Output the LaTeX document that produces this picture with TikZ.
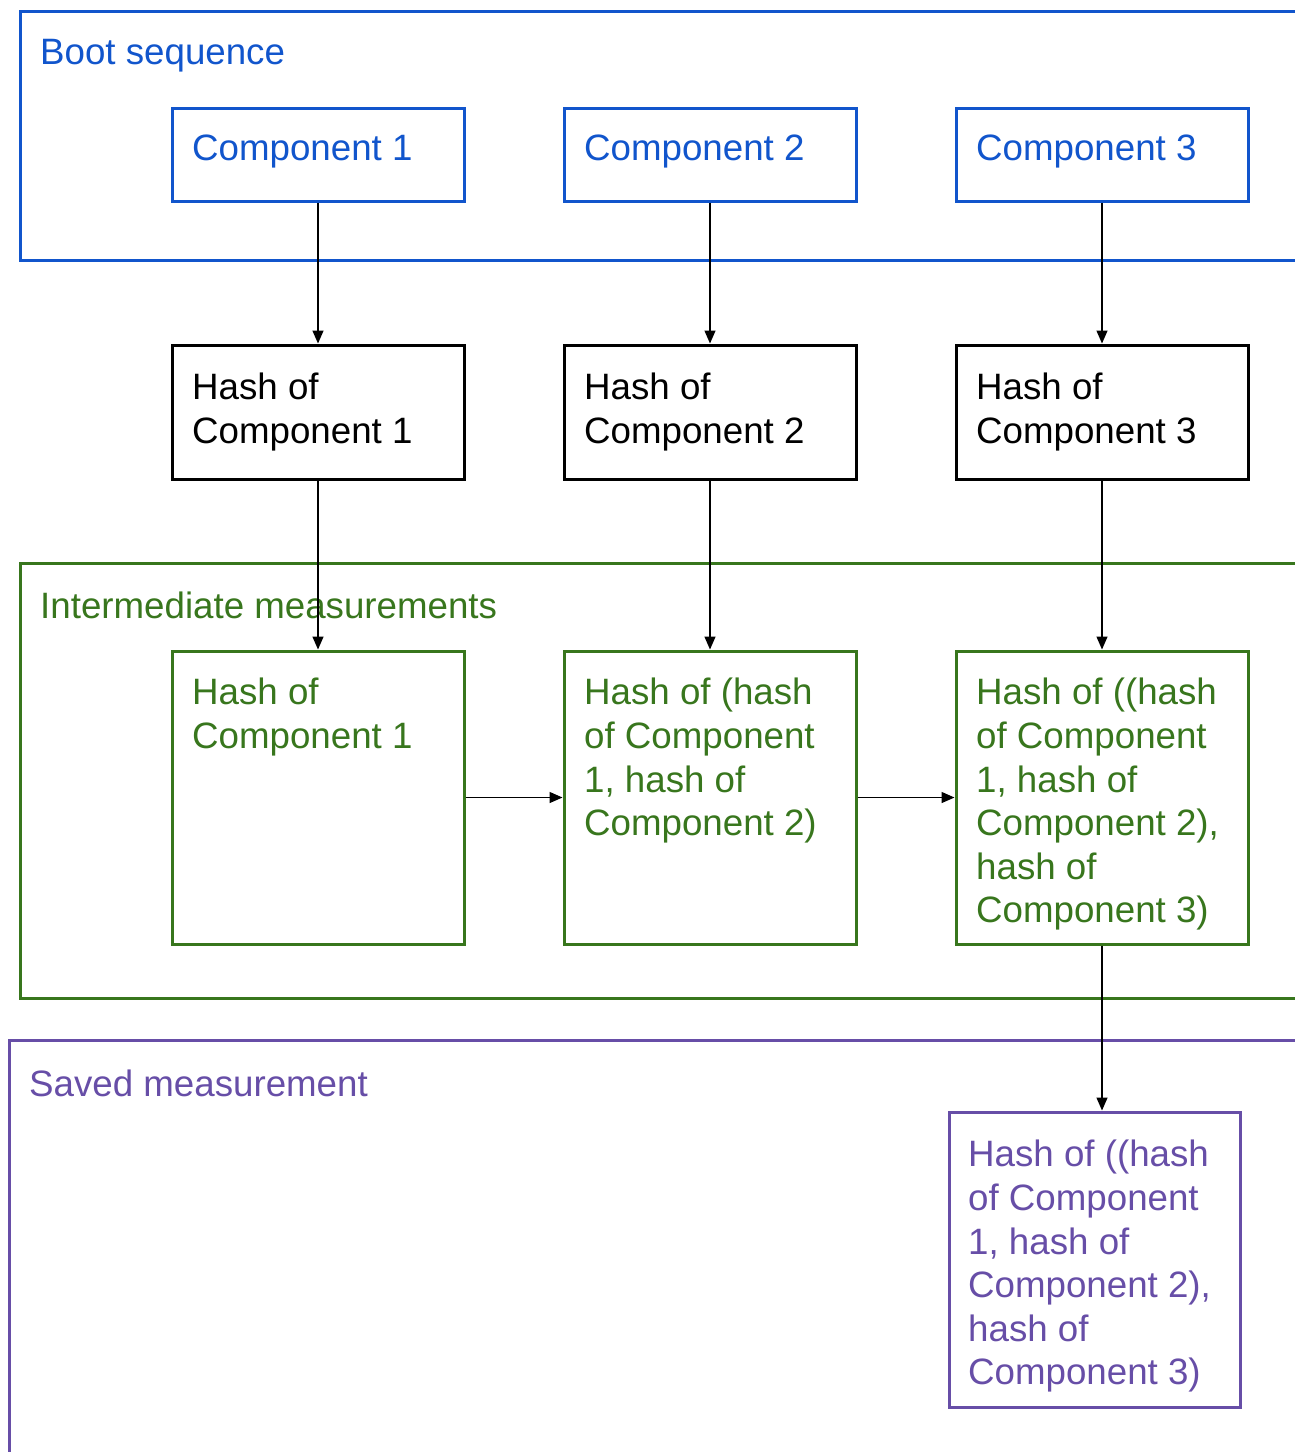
\documentclass[tikz,border=0pt]{standalone}
\usepackage{fontspec}
\setmainfont{Liberation Sans}
\usetikzlibrary{arrows.meta}
\definecolor{gblue}{HTML}{1155CC}
\definecolor{ggreen}{HTML}{38761D}
\definecolor{gpurple}{HTML}{674EA7}
\begin{document}
\begin{tikzpicture}[x=1pt,y=-1pt,
  box/.style={draw, line width=3pt, minimum width=292pt, inner sep=0pt},
  txt/.style={anchor=north west, inner sep=0pt, align=left, font=\fontsize{36.7}{43.6}\selectfont},
  arr/.style={-{Triangle[length=13pt,width=11pt]}, line width=1.4pt, black},
  frame/.style={line width=3pt}]
\useasboundingbox (0,0) rectangle (1294,1452);
% frames
\draw[frame, gblue] (20,11) rectangle (1330,260);
\draw[frame, ggreen] (20,563) rectangle (1330,998);
\draw[frame, gpurple] (9,1040) rectangle (1330,1500);
\node[txt, text=gblue] (tboot) at (40,39) {Boot sequence};
\node[txt, text=ggreen] (tint) at (40,592) {Intermediate measurements};
\node[txt, text=gpurple] (tsave) at (29,1070) {Saved measurement};
% component boxes
\node[box, draw=gblue, minimum height=93pt] (c1) at (318,154.5) {};
\node[box, draw=gblue, minimum height=93pt] (c2) at (710,154.5) {};
\node[box, draw=gblue, minimum height=93pt] (c3) at (1102,154.5) {};
\node[txt, text=gblue] (tc1) at (192,135) {Component 1};
\node[txt, text=gblue] (tc2) at (584,135) {Component 2};
\node[txt, text=gblue] (tc3) at (976,135) {Component 3};
% hash boxes
\node[box, draw=black, minimum height=134pt] (h1) at (318,412) {};
\node[box, draw=black, minimum height=134pt] (h2) at (710,412) {};
\node[box, draw=black, minimum height=134pt] (h3) at (1102,412) {};
\node[txt] (th1) at (192,373) {Hash of\\Component 1};
\node[txt] (th2) at (584,373) {Hash of\\Component 2};
\node[txt] (th3) at (976,373) {Hash of\\Component 3};
% intermediate boxes
\node[box, draw=ggreen, minimum height=293pt] (g1) at (318,797.5) {};
\node[box, draw=ggreen, minimum height=293pt] (g2) at (710,797.5) {};
\node[box, draw=ggreen, minimum height=293pt] (g3) at (1102,797.5) {};
\node[txt, text=ggreen] (tg1) at (192,678) {Hash of\\Component 1};
\node[txt, text=ggreen] (tg2) at (584,678) {Hash of (hash\\of Component\\1, hash of\\Component 2)};
\node[txt, text=ggreen] (tg3) at (976,678) {Hash of ((hash\\of Component\\1, hash of\\Component 2),\\hash of\\Component 3)};
% saved box
\node[box, draw=gpurple, minimum width=291pt, minimum height=295pt] (p) at (1094.5,1259.5) {};
\node[txt, text=gpurple] (tp) at (968,1140) {Hash of ((hash\\of Component\\1, hash of\\Component 2),\\hash of\\Component 3)};
% arrows
\draw[arr] (c1) -- (h1);
\draw[arr] (c2) -- (h2);
\draw[arr] (c3) -- (h3);
\draw[arr] (h1) -- (g1);
\draw[arr] (h2) -- (g2);
\draw[arr] (h3) -- (g3);
\draw[arr] (g1) -- (g2);
\draw[arr] (g2) -- (g3);
\draw[arr] (g3.south) -- (g3.south |- p.north);
\end{tikzpicture}
\end{document}
